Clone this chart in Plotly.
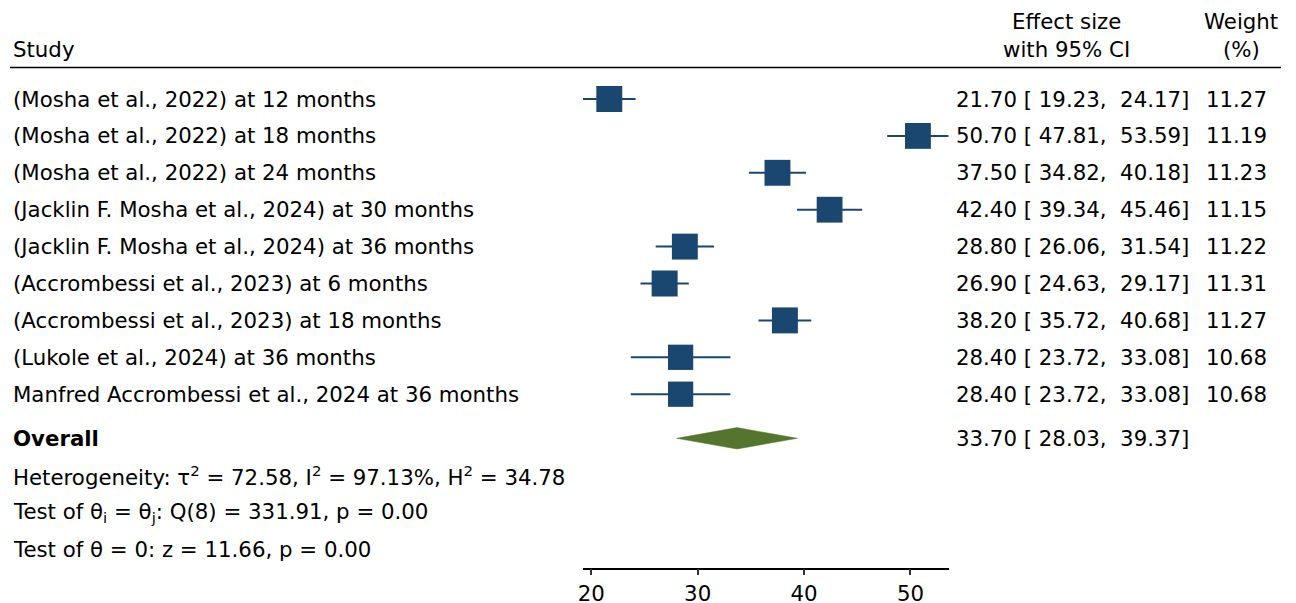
import plotly.graph_objects as go

# ---- data ----
studies = [
    "(Mosha et al., 2022) at 12 months",
    "(Mosha et al., 2022) at 18 months",
    "(Mosha et al., 2022) at 24 months",
    "(Jacklin F. Mosha et al., 2024) at 30 months",
    "(Jacklin F. Mosha et al., 2024) at 36 months",
    "(Accrombessi et al., 2023) at 6 months",
    "(Accrombessi et al., 2023) at 18 months",
    "(Lukole et al., 2024) at 36 months",
    "Manfred Accrombessi et al., 2024 at 36 months",
]
es = [21.70, 50.70, 37.50, 42.40, 28.80, 26.90, 38.20, 28.40, 28.40]
ci_lo = [19.23, 47.81, 34.82, 39.34, 26.06, 24.63, 35.72, 23.72, 23.72]
ci_hi = [24.17, 53.59, 40.18, 45.46, 31.54, 29.17, 40.68, 33.08, 33.08]
weights = [11.27, 11.19, 11.23, 11.15, 11.22, 11.31, 11.27, 10.68, 10.68]
overall_es, overall_lo, overall_hi = 33.70, 28.03, 39.37
stats_lines = [
    "Heterogeneity: \u03c4<sup>2</sup> = 72.58, I<sup>2</sup> = 97.13%, H<sup>2</sup> = 34.78",
    "Test of \u03b8<sub>i</sub> = \u03b8<sub>j</sub>: Q(8) = 331.91, p = 0.00",
    "Test of \u03b8 = 0: z = 11.66, p = 0.00",
]
tick_vals = [20, 30, 40, 50]

# ---- layout constants (page pixels) ----
PAGE_W, PAGE_H = 1296, 603
OFF = 8                      # default body margin of the html page
W, H = PAGE_W - OFF, PAGE_H - OFF
FONT = "DejaVu Sans"
FS = 21.3
NAVY = "rgb(26,71,111)"
GREEN = "rgb(85,117,47)"
axis_y_px = 567.7
row0, row_step = 99.0, 36.9
overall_y = 438.3
stats_y = [476, 513, 549]

xmin = min(ci_lo)
xmax = max(ci_hi)
px_per_unit = 10.643
left_px = 583.0
right_px = left_px + (xmax - xmin) * px_per_unit


def px(xp):
    return (xp - OFF) / W


row_y = [row0 + i * row_step for i in range(len(studies))]

fig = go.Figure()

# whiskers
wx, wy = [], []
for l, h, y in zip(ci_lo, ci_hi, row_y):
    wx += [l, h, None]
    wy += [y, y, None]
fig.add_trace(go.Scatter(x=wx, y=wy, mode="lines",
                         line=dict(color=NAVY, width=2), hoverinfo="skip",
                         showlegend=False, cliponaxis=False))

# squares
wmax = max(weights)
sizes = [26 * (w / wmax) ** 0.5 for w in weights]
fig.add_trace(go.Scatter(x=es, y=row_y, mode="markers",
                         marker=dict(symbol="square", size=sizes, color=NAVY,
                                     opacity=1, line=dict(width=0)),
                         showlegend=False, cliponaxis=False))

# overall diamond
dh = 10.7
fig.add_trace(go.Scatter(
    x=[overall_lo, overall_es, overall_hi, overall_es, overall_lo],
    y=[overall_y, overall_y - dh, overall_y, overall_y + dh, overall_y],
    mode="lines", fill="toself", fillcolor=GREEN,
    line=dict(color=GREEN, width=0.5), showlegend=False, cliponaxis=False))

ann = []


def txt(x_px, y_px, text, anchor="left"):
    ann.append(dict(x=px(x_px), xref="paper", y=y_px, yref="y", text=text,
                    showarrow=False, xanchor=anchor, yanchor="middle",
                    font=dict(family=FONT, size=FS, color="black"),
                    borderpad=0))


# headers
txt(12, 49, "Study")
txt(1066, 21, "Effect size", "center")
txt(1066, 49, "with 95% CI", "center")
txt(1241, 21, "Weight", "center")
txt(1241, 49, "(%)", "center")

NB = "\u00a0"
for name, e, l, h, w, y in zip(studies, es, ci_lo, ci_hi, weights, row_y):
    txt(12, y, name)
    txt(955, y, f"{e:.2f} [{NB}{l:.2f},{NB}{NB}{h:.2f}]")
    txt(1268, y, f"{w:.2f}", "right")

txt(12, overall_y, "<b>Overall</b>")
txt(955, overall_y, f"{overall_es:.2f} [{NB}{overall_lo:.2f},{NB}{NB}{overall_hi:.2f}]")
for s, y in zip(stats_lines, stats_y):
    txt(12, y, s)

fig.update_layout(
    width=W, height=H,
    margin=dict(l=0, r=0, t=0, b=0),
    paper_bgcolor="white", plot_bgcolor="white",
    annotations=ann,
    shapes=[dict(type="line", xref="paper", yref="y", x0=px(10), x1=px(1281),
                 y0=67.5, y1=67.5, line=dict(color="black", width=1.5))],
    xaxis=dict(domain=[px(left_px), px(right_px)], range=[xmin, xmax],
               tickvals=tick_vals, ticks="outside", ticklen=6, tickwidth=1.5,
               tickcolor="#333", showline=True, linecolor="black", linewidth=1.5,
               showgrid=False, zeroline=False, automargin=False,
               tickfont=dict(family=FONT, size=FS, color="black")),
    yaxis=dict(domain=[(H - (axis_y_px - OFF)) / H, 1], range=[axis_y_px, OFF],
               visible=False, showgrid=False, zeroline=False, automargin=False),
    showlegend=False,
)

fig.write_html("out.html", config={"displayModeBar": False})
